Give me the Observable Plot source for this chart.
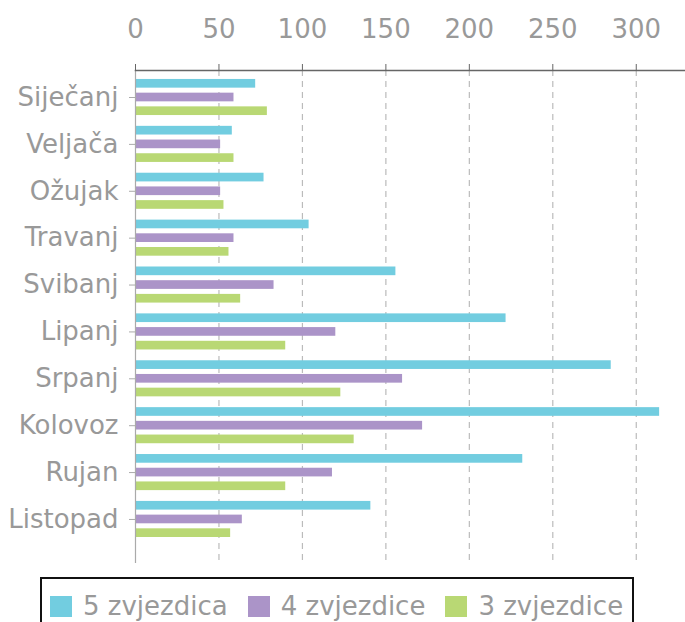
<!DOCTYPE html>
<html>
<head>
<meta charset="utf-8">
<script src="https://cdn.jsdelivr.net/npm/d3@7"></script>
<script src="https://cdn.jsdelivr.net/npm/@observablehq/plot@0.6"></script>
<style>
  html, body { margin: 0; padding: 0; background: #fff; }
  body { width: 685px; height: 622px; overflow: hidden; position: relative; font-family: "DejaVu Sans", sans-serif; }
  #chart { position: absolute; left: 0; top: 0; }
  #legend { position: absolute; left: 40px; top: 577px; width: 594px; height: 60px; border: 2px solid #111; box-sizing: border-box; display: flex; align-items: flex-start; padding: 12px 0 0 8px; }
  .item { display: flex; align-items: center; margin-right: 20px; color: #999; font-size: 26px; line-height: 30px; white-space: nowrap; }
  .sw { width: 22px; height: 21px; margin-right: 11px; display: inline-block; }
</style>
</head>
<body>
<div id="chart"></div>
<div id="legend"></div>
<script>
const months = ["Siječanj", "Veljača", "Ožujak", "Travanj", "Svibanj", "Lipanj", "Srpanj", "Kolovoz", "Rujan", "Listopad"];
const series = ["5 zvjezdica", "4 zvjezdice", "3 zvjezdice"];
const colors = ["#72cde0", "#ab94c8", "#b9d874"];
const fiveStar = [72, 58, 77, 104, 156, 222, 285, 314, 232, 141];
const fourStar = [59, 51, 51, 59, 83, 120, 160, 172, 118, 64];
const threeStar = [79, 59, 53, 56, 63, 90, 123, 131, 90, 57];
const xTicks = [0, 50, 100, 150, 200, 250, 300];

const valuesBySeries = [fiveStar, fourStar, threeStar];
const data = series.map((s, i) => months.map((m, j) => ({month: m, series: s, value: valuesBySeries[i][j]})));

const grey = "#999";
const barH = 8.7, gap = 5;
const step = 46.9;
const outer = (step - 3 * barH - 2 * gap) / 2;

const barMarks = data.map((rows, i) => Plot.barX(rows, {
  x: "value", y: "month", fill: colors[i],
  insetTop: outer + i * (barH + gap),
  insetBottom: step - outer - barH - i * (barH + gap)
}));

const chart = Plot.plot({
  width: 685,
  height: 575,
  marginTop: 70,
  marginLeft: 135,
  marginRight: 0,
  marginBottom: 12,
  style: {fontFamily: "DejaVu Sans, sans-serif", fontSize: "26px", background: "#fff"},
  x: {domain: [0, 329.5], axis: null},
  y: {domain: months, range: [73.56, 542.4], padding: 0, round: false, axis: null},
  marks: [
    Plot.gridX(xTicks.filter(d => d > 0), {stroke: "#bbb", strokeOpacity: 1, strokeDasharray: "6,5", strokeWidth: 1.2}),
    ...barMarks,
    Plot.ruleX([0], {stroke: "#aaa", strokeWidth: 1.2}),
    Plot.frame({anchor: "top", stroke: "#666", strokeWidth: 1.5}),
    Plot.axisX({anchor: "top", ticks: xTicks, label: null, tickSize: 7, tickPadding: 26, stroke: "#666", color: grey, fontSize: 26, fontFamily: "DejaVu Sans"}),
    Plot.axisY({anchor: "left", label: null, tickSize: 6, tickPadding: 11, stroke: "#aaa", color: grey, fontSize: 26, fontFamily: "DejaVu Sans"})
  ]
});
document.getElementById("chart").appendChild(chart);

const legend = document.getElementById("legend");
series.forEach((s, i) => {
  const it = document.createElement("div");
  it.className = "item";
  const sw = document.createElement("span");
  sw.className = "sw";
  sw.style.background = colors[i];
  it.appendChild(sw);
  it.appendChild(document.createTextNode(s));
  legend.appendChild(it);
});
</script>
</body>
</html>
